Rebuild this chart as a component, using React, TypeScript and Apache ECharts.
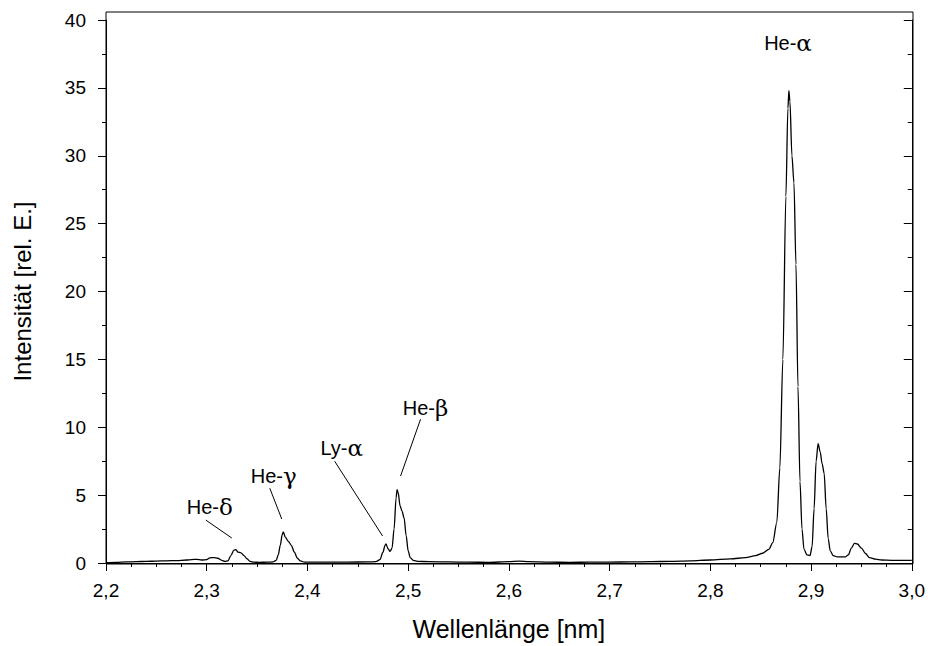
import React, { useEffect, useRef } from "react";
import * as echarts from "echarts";

// Spectrum: wavelength [nm] and relative intensity
const wavelength = [
  2.2, 2.21, 2.22, 2.23, 2.24, 2.25, 2.26, 2.27, 2.28, 2.285, 2.29, 2.295, 2.3, 2.303, 2.307, 2.311,
  2.315, 2.318, 2.321, 2.324, 2.327, 2.329, 2.331, 2.334, 2.337, 2.34, 2.343, 2.347, 2.352, 2.36,
  2.366, 2.369, 2.371, 2.373, 2.375, 2.376, 2.378, 2.381, 2.384, 2.387, 2.39, 2.393, 2.397, 2.405,
  2.42, 2.44, 2.46, 2.468, 2.472, 2.475, 2.477, 2.478, 2.48, 2.482, 2.484, 2.486, 2.488, 2.489,
  2.49, 2.492, 2.494, 2.496, 2.498, 2.5, 2.502, 2.505, 2.51, 2.52, 2.54, 2.56, 2.58, 2.6, 2.61,
  2.62, 2.64, 2.66, 2.68, 2.7, 2.72, 2.74, 2.76, 2.78, 2.8, 2.82, 2.835, 2.845, 2.852, 2.858,
  2.862, 2.866, 2.869, 2.872, 2.875, 2.877, 2.878, 2.879, 2.881, 2.883, 2.885, 2.887, 2.889,
  2.891, 2.893, 2.896, 2.899, 2.901, 2.903, 2.905, 2.907, 2.909, 2.911, 2.913, 2.915, 2.917,
  2.919, 2.922, 2.926, 2.93, 2.934, 2.937, 2.94, 2.943, 2.946, 2.95, 2.954, 2.958, 2.964, 2.97,
  2.98, 2.99, 3.0,
];
const intensity = [
  0.02, 0.04, 0.08, 0.1, 0.12, 0.14, 0.16, 0.18, 0.22, 0.25, 0.27, 0.22, 0.25, 0.38, 0.4, 0.35,
  0.2, 0.12, 0.15, 0.55, 0.95, 0.98, 0.8, 0.75, 0.55, 0.3, 0.12, 0.06, 0.05, 0.06,
  0.08, 0.2, 0.6, 1.3, 2.1, 2.3, 1.9, 1.6, 1.3, 0.8, 0.35, 0.15, 0.07, 0.06,
  0.06, 0.07, 0.08, 0.1, 0.25, 0.8, 1.3, 1.4, 1.05, 0.85, 1.1, 2.5, 4.8, 5.4,
  5.2, 4.2, 3.8, 3.3, 2.0, 0.9, 0.4, 0.2, 0.12, 0.1, 0.08, 0.06, 0.05, 0.1, 0.14,
  0.1, 0.06, 0.05, 0.06, 0.07, 0.08, 0.1, 0.12, 0.16, 0.22, 0.3, 0.4, 0.55, 0.72, 1.0,
  1.5, 3.0, 7.0, 15.0, 27.0, 33.5, 34.8, 34.0, 30.0, 28.0, 22.0, 13.0, 6.0,
  2.5, 1.0, 0.6, 0.55, 1.2, 4.0, 7.5, 8.8, 8.2, 7.3, 6.6, 4.0, 1.8,
  0.9, 0.55, 0.45, 0.45, 0.45, 0.6, 1.1, 1.45, 1.4, 1.1, 0.7, 0.4, 0.28, 0.22,
  0.2, 0.2, 0.2,
];

// Axis settings
const xMin = 2.2;
const xMax = 3.0;
const xStep = 0.1;
const yMin = 0;
const yMax = 40;
const yStep = 5;

// Line annotations (prefix + Greek letter)
const annotationPrefix = ["He-", "He-", "Ly-", "He-", "He-"];
const annotationGreek = ["δ", "γ", "α", "β", "α"];
const annotationX = [2.303, 2.3665, 2.434, 2.5172, 2.8771];
const annotationY = [4.12, 6.4, 8.46, 11.4, 38.3];
// Leader lines (from label to peak); He-α has none
const leaderFromX = [2.2991, 2.3626, 2.427, 2.5123];
const leaderFromY = [3.16, 5.51, 7.5, 10.59];
const leaderToX = [2.3249, 2.3745, 2.4746, 2.4924];
const leaderToY = [1.84, 3.24, 1.99, 6.4];

const FONT = "'Liberation Sans', Arial, Helvetica, sans-serif";
const GRID_LEFT = 106;
const GRID_RIGHT = 15;
const GRID_TOP = 20;
const GRID_BOTTOM = 82;
const FRAME_EXTRA = 8;
const W = 928;
const H = 646;

export default function App() {
  const ref = useRef<HTMLDivElement>(null);

  useEffect(() => {
    if (!ref.current) return;
    const chart = echarts.init(ref.current, undefined, { renderer: "svg" });

    const fmtX = (v: number) => v.toFixed(1).replace(".", ",");
    const tickStyle = { color: "#000", width: 1 };

    const option: any = {
      animation: false,
      backgroundColor: "#fff",
      textStyle: { fontFamily: FONT },
      grid: { left: GRID_LEFT, right: GRID_RIGHT, top: GRID_TOP, bottom: GRID_BOTTOM, containLabel: false },
      xAxis: [
        {
          type: "value",
          position: "bottom",
          min: xMin,
          max: xMax,
          interval: xStep,
          name: "Wellenlänge [nm]",
          nameLocation: "middle",
          nameGap: 53,
          nameTextStyle: { fontSize: 25, color: "#000", fontFamily: FONT },
          axisLine: { show: true, onZero: false, lineStyle: { color: "#000", width: 1 } },
          axisTick: { show: true, inside: false, length: 8, lineStyle: tickStyle },
          minorTick: { show: true, splitNumber: 4, length: 4, lineStyle: tickStyle },
          splitLine: { show: false },
          axisLabel: { formatter: fmtX, fontSize: 19, color: "#000", margin: 18, fontFamily: FONT },
        },
        {
          type: "value",
          position: "top",
          offset: FRAME_EXTRA,
          min: xMin,
          max: xMax,
          interval: xStep,
          axisLine: { show: false },
          axisTick: { show: true, inside: true, length: 8, lineStyle: tickStyle },
          minorTick: { show: true, splitNumber: 4, length: 4, lineStyle: tickStyle },
          splitLine: { show: false },
          axisLabel: { show: false },
        },
      ],
      yAxis: [
        {
          type: "value",
          position: "left",
          min: yMin,
          max: yMax,
          interval: yStep,
          name: "Intensität [rel. E.]",
          nameLocation: "middle",
          nameGap: 72,
          nameTextStyle: { fontSize: 24, color: "#000", fontFamily: FONT },
          axisLine: { show: true, onZero: false, lineStyle: { color: "#000", width: 1 } },
          axisTick: { show: true, inside: false, length: 8, lineStyle: tickStyle },
          minorTick: { show: true, splitNumber: 2, length: 4, lineStyle: tickStyle },
          splitLine: { show: false },
          axisLabel: { fontSize: 19, color: "#000", margin: 20, fontFamily: FONT },
        },
        {
          type: "value",
          position: "right",
          min: yMin,
          max: yMax,
          interval: yStep,
          axisLine: { show: true, onZero: false, lineStyle: { color: "#000", width: 1 } },
          axisTick: { show: true, inside: true, length: 8, lineStyle: tickStyle },
          minorTick: { show: true, splitNumber: 2, length: 4, lineStyle: tickStyle },
          splitLine: { show: false },
          axisLabel: { show: false },
        },
      ],
      graphic: [
        {
          type: "rect",
          silent: true,
          shape: {
            x: GRID_LEFT,
            y: GRID_TOP - FRAME_EXTRA,
            width: W - GRID_LEFT - GRID_RIGHT,
            height: H - GRID_BOTTOM - GRID_TOP + FRAME_EXTRA,
          },
          style: { fill: "none", stroke: "#000", lineWidth: 1 },
          z: 10,
        },
      ],
      series: [
        {
          type: "line",
          data: wavelength.map((x, i) => [x, intensity[i]]),
          showSymbol: false,
          symbol: "none",
          smooth: 0.3,
          smoothMonotone: "x",
          lineStyle: { color: "#000", width: 1.3 },
          silent: true,
          markLine: {
            silent: true,
            symbol: ["none", "none"],
            label: { show: false },
            lineStyle: { color: "#000", width: 1, type: "solid" },
            emphasis: { disabled: true },
            data: leaderFromX.map((x, i) => [
              { coord: [x, leaderFromY[i]] },
              { coord: [leaderToX[i], leaderToY[i]] },
            ]),
          },
        },
        {
          type: "scatter",
          silent: true,
          symbolSize: 0,
          itemStyle: { opacity: 1, color: "#000" },
          data: annotationPrefix.map((p, i) => ({
            name: p + annotationGreek[i],
            value: [annotationX[i], annotationY[i]],
          })),
          label: {
            show: true,
            position: "inside",
            formatter: (p: any) => {
              const i = p.dataIndex;
              return annotationPrefix[i] + "{g|" + annotationGreek[i] + "}";
            },
            color: "#000",
            opacity: 1,
            fontSize: 20,
            fontFamily: FONT,
            rich: {
              g: { fontSize: 23, color: "#000", fontFamily: "'DejaVu Serif', serif" },
            },
          },
        },
      ],
    };

    chart.setOption(option);
    return () => chart.dispose();
  }, []);

  return (
    <div
      ref={ref}
      style={{ position: "fixed", left: 0, top: 0, width: W, height: H, background: "#fff" }}
    />
  );
}
